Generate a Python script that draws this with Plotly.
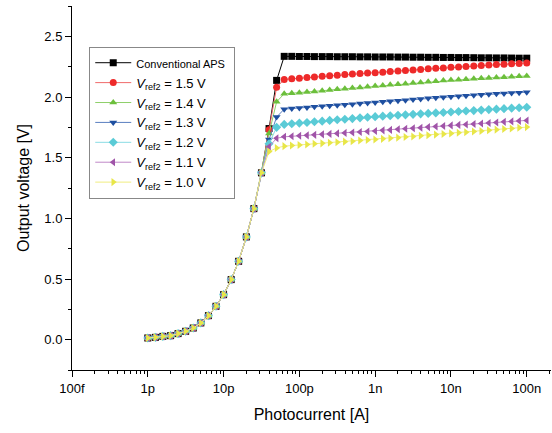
import plotly.graph_objects as go

# Photocurrent grid: 10 points per decade from 1 pA to 100 nA
mantissas = [1.0, 1.26, 1.58, 2.0, 2.51, 3.16, 3.98, 5.01, 6.31, 7.94]
decades = [1e-12, 1e-11, 1e-10, 1e-9, 1e-8]
photocurrent = [m * d for d in decades for m in mantissas] + [1e-7]

# Common rising part (1 pA .. 31.6 pA)
common = [0.014, 0.019, 0.027, 0.033, 0.050, 0.069, 0.096, 0.138, 0.198, 0.275,
          0.371, 0.495, 0.646, 0.847, 1.080, 1.375]

conv_tail = [1.740, 2.137,
             2.335, 2.335, 2.334, 2.334, 2.333, 2.333, 2.333, 2.332, 2.332, 2.332,
             2.331, 2.331, 2.330, 2.330, 2.330, 2.329, 2.329, 2.328, 2.328, 2.327,
             2.327, 2.326, 2.326, 2.325, 2.325, 2.324, 2.323, 2.323, 2.322, 2.322,
             2.321, 2.320, 2.320]
v15_tail = [1.730, 2.080,
            2.145, 2.150, 2.155, 2.160, 2.165, 2.170, 2.175, 2.180, 2.185, 2.190,
            2.193, 2.197, 2.200, 2.205, 2.210, 2.214, 2.218, 2.223, 2.227, 2.232,
            2.236, 2.240, 2.245, 2.248, 2.252, 2.256, 2.260, 2.263, 2.267, 2.270,
            2.274, 2.277, 2.281]
v14_tail = [1.700, 1.960,
            2.027, 2.031, 2.035, 2.041, 2.046, 2.052, 2.057, 2.063, 2.068, 2.074,
            2.079, 2.085, 2.090, 2.095, 2.100, 2.105, 2.110, 2.115, 2.120, 2.125,
            2.130, 2.135, 2.140, 2.143, 2.147, 2.150, 2.154, 2.157, 2.160, 2.163,
            2.166, 2.170, 2.173]
v13_tail = [1.650, 1.835,
            1.900, 1.905, 1.910, 1.914, 1.919, 1.923, 1.928, 1.932, 1.937, 1.941,
            1.946, 1.950, 1.955, 1.960, 1.964, 1.969, 1.974, 1.979, 1.984, 1.989,
            1.993, 1.998, 2.003, 2.007, 2.011, 2.015, 2.018, 2.022, 2.026, 2.029,
            2.033, 2.036, 2.040]
v12_tail = [1.615, 1.750,
            1.774, 1.779, 1.785, 1.790, 1.796, 1.801, 1.807, 1.812, 1.817, 1.822,
            1.828, 1.833, 1.838, 1.842, 1.846, 1.850, 1.853, 1.857, 1.861, 1.865,
            1.869, 1.872, 1.876, 1.880, 1.884, 1.888, 1.892, 1.896, 1.900, 1.904,
            1.908, 1.911, 1.915]
v11_tail = [1.590, 1.660,
            1.672, 1.676, 1.680, 1.684, 1.688, 1.692, 1.696, 1.700, 1.704, 1.708,
            1.712, 1.716, 1.720, 1.725, 1.729, 1.734, 1.738, 1.743, 1.747, 1.752,
            1.757, 1.761, 1.766, 1.770, 1.774, 1.778, 1.782, 1.786, 1.790, 1.795,
            1.799, 1.803, 1.807]
v10_tail = [1.550, 1.580,
            1.595, 1.600, 1.605, 1.609, 1.614, 1.618, 1.623, 1.627, 1.632, 1.636,
            1.641, 1.645, 1.650, 1.655, 1.660, 1.665, 1.670, 1.675, 1.680, 1.685,
            1.690, 1.695, 1.700, 1.705, 1.710, 1.715, 1.720, 1.726, 1.731, 1.736,
            1.741, 1.746, 1.752]

names = ["<span style=\"font-size:11px\">Conventional APS</span>&nbsp;",
         "<i>V</i><sub>ref2</sub> = 1.5 V",
         "<i>V</i><sub>ref2</sub> = 1.4 V",
         "<i>V</i><sub>ref2</sub> = 1.3 V",
         "<i>V</i><sub>ref2</sub> = 1.2 V",
         "<i>V</i><sub>ref2</sub> = 1.1 V",
         "<i>V</i><sub>ref2</sub> = 1.0 V"]
tails = [conv_tail, v15_tail, v14_tail, v13_tail, v12_tail, v11_tail, v10_tail]
colors = ["#000000", "#EE2A2A", "#6CBF3C", "#1E4FA0", "#5ACBD6", "#A054A8", "#E8E648"]
line_colors = ["#000000", "#F06A6A", "#8FD06A", "#5A7FC0", "#8ADCE4", "#C088C8", "#F0EE80"]
symbols = ["square", "circle", "triangle-up", "triangle-down", "diamond",
           "triangle-left", "triangle-right"]

fig = go.Figure()
for name, tail, c, lc, s in zip(names, tails, colors, line_colors, symbols):
    fig.add_trace(go.Scatter(
        x=photocurrent, y=common + tail, mode="lines+markers", name=name,
        line=dict(color=lc, width=1),
        marker=dict(symbol=s, color=c, size=7, line=dict(width=0)),
    ))

font_family = "Liberation Sans, Arial, sans-serif"
fig.update_layout(
    width=552, height=433,
    margin=dict(l=72, r=1, t=6, b=63),
    paper_bgcolor="white", plot_bgcolor="white",
    font=dict(family=font_family, size=13, color="#000000"),
    showlegend=True,
    legend=dict(x=0.036, y=0.888, xanchor="left", yanchor="top",
                bgcolor="white", bordercolor="#888888", borderwidth=1,
                font=dict(size=13), tracegroupgap=0, itemwidth=36),
)
fig.update_xaxes(
    type="log", range=[-13, -6.68],
    tickmode="array",
    tickvals=[1e-13, 1e-12, 1e-11, 1e-10, 1e-9, 1e-8, 1e-7],
    ticktext=["100f", "1p", "10p", "100p", "1n", "10n", "100n"],
    ticks="outside", ticklen=6, tickwidth=1, tickcolor="black",
    minor=dict(ticks="outside", ticklen=3, tickcolor="black", dtick="D1", showgrid=False),
    showline=True, linecolor="black", linewidth=1, mirror=False,
    showgrid=False, zeroline=False,
    title=dict(text="Photocurrent [A]", font=dict(size=16), standoff=14),
    tickfont=dict(size=13),
)
fig.update_yaxes(
    range=[-0.25, 2.75], dtick=0.5, tick0=0, tickformat=".1f",
    ticks="outside", ticklen=6, tickwidth=1, tickcolor="black",
    minor=dict(ticks="outside", ticklen=3, tickcolor="black", dtick=0.25, showgrid=False),
    showline=True, linecolor="black", linewidth=1, mirror=False,
    showgrid=False, zeroline=False,
    title=dict(text="Output voltage [V]", font=dict(size=16), standoff=10),
    tickfont=dict(size=13),
)

fig.write_html("out.html")
